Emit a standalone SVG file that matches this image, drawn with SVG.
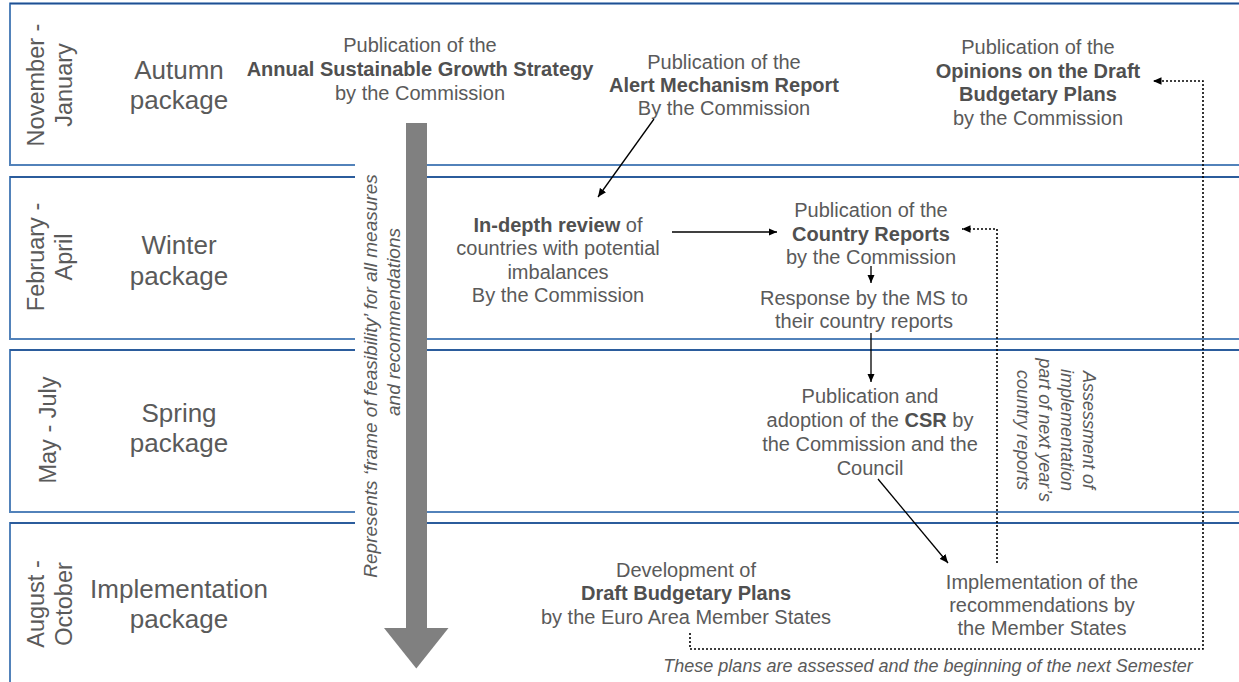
<svg xmlns="http://www.w3.org/2000/svg" width="1239" height="682" viewBox="0 0 1239 682">
<defs>
<marker id="ah" markerUnits="userSpaceOnUse" markerWidth="9" markerHeight="8" refX="8.5" refY="3.75" orient="auto"><path d="M0,0 L8.5,3.75 L0,7.5 Z" fill="#000"/></marker>
<style>
.band{fill:none;stroke:#5282ba;stroke-width:2}
.btop{stroke:#1f4f92;stroke-width:1.5}
.t{font-family:"Liberation Sans",Arial,sans-serif;fill:#5a5a5a;font-size:20px;text-anchor:middle}
.b{font-weight:bold;fill:#505050}
.pkg{font-size:26px}
.mon{font-size:23.5px}
.it{font-style:italic;font-size:18px}
.ln{stroke:#000;stroke-width:1.3;fill:none}
.dl{stroke:#000;stroke-width:1.6;fill:none;stroke-dasharray:2 2}
</style>
</defs>
<rect width="1239" height="682" fill="#fff"/>
<g id="bands">
<rect class="band" x="10" y="3.5" width="1240" height="161.5"/>
<rect class="band" x="10" y="177" width="1240" height="162"/>
<rect class="band" x="10" y="350" width="1240" height="162"/>
<rect class="band" x="10" y="523" width="1240" height="170"/>
<line class="btop" x1="10" y1="3.5" x2="1239" y2="3.5"/>
<line class="btop" x1="10" y1="177" x2="1239" y2="177"/>
<line class="btop" x1="10" y1="350" x2="1239" y2="350"/>
<line class="btop" x1="10" y1="523" x2="1239" y2="523"/>
</g>
<g id="labels">
<text class="t mon" transform="translate(43.5,85) rotate(-90)"><tspan x="0" y="0">November -</tspan><tspan x="0" y="28.5">January</tspan></text>
<text class="t mon" transform="translate(43.5,257) rotate(-90)"><tspan x="0" y="0">February -</tspan><tspan x="0" y="28.5">April</tspan></text>
<text class="t mon" transform="translate(56,430) rotate(-90)">May - July</text>
<text class="t mon" transform="translate(43.5,604) rotate(-90)"><tspan x="0" y="0">August -</tspan><tspan x="0" y="28.5">October</tspan></text>
<text class="t pkg"><tspan x="179" y="79">Autumn</tspan><tspan x="179" y="109">package</tspan></text>
<text class="t pkg"><tspan x="179" y="254">Winter</tspan><tspan x="179" y="285">package</tspan></text>
<text class="t pkg"><tspan x="179" y="422">Spring</tspan><tspan x="179" y="452">package</tspan></text>
<text class="t pkg"><tspan x="179" y="598">Implementation</tspan><tspan x="179" y="628">package</tspan></text>
</g>
<g id="feasibility">
<rect x="355" y="150" width="51" height="470" fill="#fff"/>
<rect x="406" y="123" width="21" height="506" fill="#808080"/>
<polygon points="384,628 448.5,628 416.3,668.5" fill="#808080"/>
<text class="t it" style="font-size:19px" transform="translate(377,376) rotate(-90)">Represents ‘frame of feasibility’ for all measures</text>
<text class="t it" style="font-size:19px" transform="translate(400,322) rotate(-90)">and recommendations</text>
</g>
<g id="asgs"><text class="t"><tspan x="420" y="52">Publication of the</tspan><tspan class="b" x="420" y="76">Annual Sustainable Growth Strategy</tspan><tspan x="420" y="100">by the Commission</tspan></text></g>
<g id="amr"><text class="t"><tspan x="724" y="69">Publication of the</tspan><tspan class="b" x="724" y="92">Alert Mechanism Report</tspan><tspan x="724" y="115">By the Commission</tspan></text></g>
<g id="opinions"><text class="t"><tspan x="1038" y="54">Publication of the</tspan><tspan class="b" x="1038" y="78">Opinions on the Draft</tspan><tspan class="b" x="1038" y="101">Budgetary Plans</tspan><tspan x="1038" y="125">by the Commission</tspan></text></g>
<g id="indepth"><text class="t"><tspan x="558" y="232"><tspan class="b">In-depth review</tspan> of</tspan><tspan x="558" y="255">countries with potential</tspan><tspan x="558" y="279">imbalances</tspan><tspan x="558" y="302">By the Commission</tspan></text></g>
<g id="country-reports"><text class="t"><tspan x="871" y="217">Publication of the</tspan><tspan class="b" x="871" y="241">Country Reports</tspan><tspan x="871" y="264">by the Commission</tspan></text></g>
<g id="response"><text class="t"><tspan x="864" y="305">Response by the MS to</tspan><tspan x="864" y="328">their country reports</tspan></text></g>
<g id="csr"><text class="t"><tspan x="870" y="403">Publication and</tspan><tspan x="870" y="427">adoption of the <tspan class="b">CSR</tspan> by</tspan><tspan x="870" y="451">the Commission and the</tspan><tspan x="870" y="475">Council</tspan></text></g>
<g id="implementation"><text class="t"><tspan x="1042" y="589">Implementation of the</tspan><tspan x="1042" y="612">recommendations by</tspan><tspan x="1042" y="635">the Member States</tspan></text></g>
<g id="dbp"><text class="t"><tspan x="686" y="577">Development of</tspan><tspan class="b" x="686" y="600">Draft Budgetary Plans</tspan><tspan x="686" y="624">by the Euro Area Member States</tspan></text></g>
<g id="assessment-label"><text class="t it" transform="translate(1083,430) rotate(90)"><tspan x="0" y="0">Assessment of</tspan><tspan x="0" y="22">implementation</tspan><tspan x="0" y="44">part of next year’s</tspan><tspan x="0" y="66">country reports</tspan></text></g>
<g id="semester-label"><text class="t it" x="928" y="672">These plans are assessed and the beginning of the next Semester</text></g>
<g id="connectors">
<line class="ln" x1="654" y1="119" x2="598" y2="197" marker-end="url(#ah)"/>
<line class="ln" x1="672" y1="232" x2="777" y2="232" marker-end="url(#ah)"/>
<line class="ln" x1="871" y1="266" x2="871" y2="283" marker-end="url(#ah)"/>
<line class="ln" x1="871" y1="333" x2="871" y2="382" marker-end="url(#ah)"/>
<line class="ln" x1="878" y1="479" x2="948" y2="563" marker-end="url(#ah)"/>
<path class="dl" d="M997,563 V229 H962" marker-end="url(#ah)"/>
<path class="dl" d="M690,633 V649 H1203 V81 H1153" marker-end="url(#ah)"/>
</g>
</svg>
